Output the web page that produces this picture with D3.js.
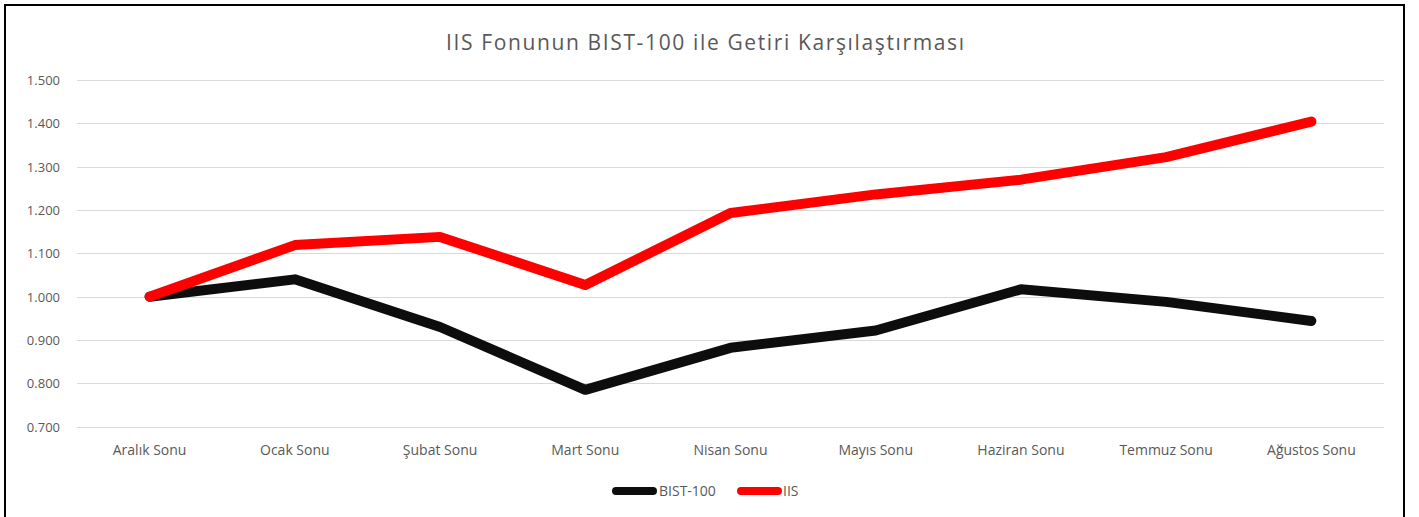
<!DOCTYPE html>
<html>
<head>
<meta charset="utf-8">
<script src="https://cdn.jsdelivr.net/npm/d3@7"></script>
<style>
  body { margin: 0; background: #fff; }
  svg text { font-family: "Open Sans", "Noto Sans", sans-serif; fill: #595959; }
</style>
</head>
<body>
<svg id="chart" width="1419" height="517"></svg>
<script>
const categories = ['Aralık Sonu', 'Ocak Sonu', 'Şubat Sonu', 'Mart Sonu', 'Nisan Sonu',
  'Mayıs Sonu', 'Haziran Sonu', 'Temmuz Sonu', 'Ağustos Sonu'];
const bist100 = [1.000, 1.040, 0.930, 0.785, 0.882, 0.922, 1.017, 0.988, 0.944];
const iis = [1.000, 1.119, 1.138, 1.027, 1.193, 1.236, 1.270, 1.322, 1.404];
const yTicks = [0.7, 0.8, 0.9, 1.0, 1.1, 1.2, 1.3, 1.4, 1.5];
const seriesNames = ['BIST-100', 'IIS'];
const seriesColors = ['#0d0d0d', '#ff0000'];

const svg = d3.select('#chart');
const width = 1419, height = 517;
const margin = { left: 77, right: 35, top: 80, bottom: 90 };

// frame
svg.append('rect')
  .attr('x', 5).attr('y', 5)
  .attr('width', 1399).attr('height', 520)
  .attr('fill', '#fff')
  .attr('stroke', '#000')
  .attr('stroke-width', 2);

const x = d3.scaleBand()
  .domain(categories)
  .range([margin.left, width - margin.right]);

const y = d3.scaleLinear()
  .domain([0.7, 1.5])
  .range([height - margin.bottom - 0.3, margin.top]);

// gridlines
svg.append('g')
  .selectAll('line')
  .data(yTicks)
  .enter()
  .append('line')
  .attr('x1', margin.left)
  .attr('x2', width - margin.right)
  .attr('y1', d => Math.round(y(d)) + 0.5)
  .attr('y2', d => Math.round(y(d)) + 0.5)
  .attr('stroke', '#d9d9d9')
  .attr('stroke-width', 1);

// y labels
const fmt = d => d3.format('.3f')(d).replace('.', '.');
svg.append('g')
  .selectAll('text')
  .data(yTicks)
  .enter()
  .append('text')
  .attr('x', 60)
  .attr('y', d => y(d) + 5)
  .attr('text-anchor', 'end')
  .style('font-size', '13px')
  .text(fmt);

// x labels
svg.append('g')
  .selectAll('text')
  .data(categories)
  .enter()
  .append('text')
  .attr('x', d => x(d) + x.bandwidth() / 2)
  .attr('y', 455)
  .attr('text-anchor', 'middle')
  .style('font-size', '14px')
  .text(d => d);

// lines
const line = d3.line()
  .x((d, i) => x(categories[i]) + x.bandwidth() / 2)
  .y(d => y(d));

[bist100, iis].forEach((vals, i) => {
  svg.append('path')
    .datum(vals)
    .attr('d', line)
    .attr('fill', 'none')
    .attr('stroke', seriesColors[i])
    .attr('stroke-width', 10)
    .attr('stroke-linecap', 'round')
    .attr('stroke-linejoin', 'round');
});

// title
svg.append('text')
  .attr('x', 705)
  .attr('y', 50)
  .attr('text-anchor', 'middle')
  .style('font-size', '21px')
  .attr('textLength', 518)
  .text('IIS Fonunun BIST-100 ile Getiri Karşılaştırması');

// legend
const legendPos = [{ lx: 616, tx: 659 }, { lx: 741, tx: 783 }];
const legend = svg.append('g');
seriesNames.forEach((name, i) => {
  legend.append('line')
    .attr('x1', legendPos[i].lx).attr('x2', legendPos[i].lx + 37)
    .attr('y1', 491).attr('y2', 491)
    .attr('stroke', seriesColors[i])
    .attr('stroke-width', 8)
    .attr('stroke-linecap', 'round');
  legend.append('text')
    .attr('x', legendPos[i].tx)
    .attr('y', 496)
    .style('font-size', '14px')
    .text(name);
});
</script>
</body>
</html>
